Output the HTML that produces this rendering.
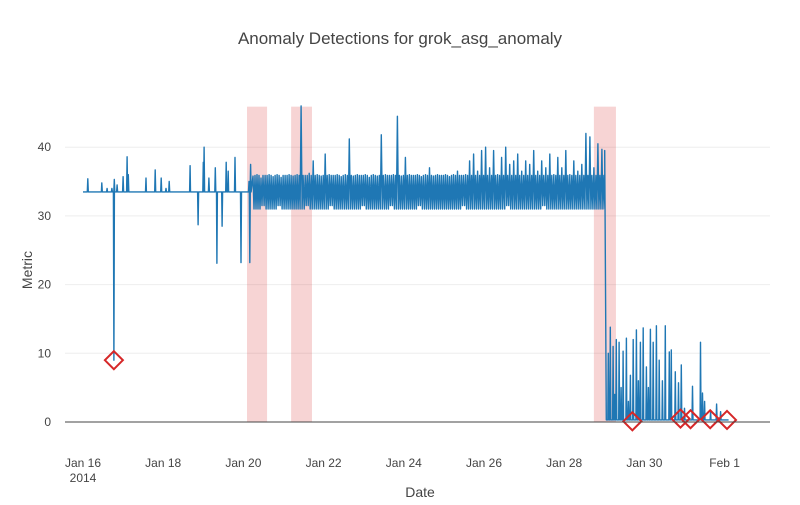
<!DOCTYPE html>
<html><head><meta charset="utf-8"><style>
body{margin:0;background:#fff;font-family:"Liberation Sans",sans-serif}
svg text{font-family:"Liberation Sans",sans-serif;fill:#444}
</style></head><body>
<svg id="chart" width="800" height="500">
<rect width="800" height="500" fill="#fff"/>
<text x="400" y="44" text-anchor="middle" font-size="17">Anomaly Detections for grok_asg_anomaly</text>
<g id="grid"></g><g id="shapes"></g><g id="lines"></g><g id="marks"></g><g id="axes"></g>
<text x="420" y="497" text-anchor="middle" font-size="14">Date</text>
<text transform="translate(32,270) rotate(-90)" text-anchor="middle" font-size="14">Metric</text>
</svg>
<script>
// days since Jan 16 2014
const xTickDays=[0,2,4,6,8,10,12,14,16];
const xTickLabels=["Jan 16","Jan 18","Jan 20","Jan 22","Jan 24","Jan 26","Jan 28","Jan 30","Feb 1"];
const yTicks=[0,10,20,30,40];
const anomalyWindowsStart=[4.09,5.19,12.74];
const anomalyWindowsEnd=[4.59,5.71,13.29];
const baseLevel=33.5;
const preSpikeDays=[0.12,0.47,0.6,0.72,0.77,0.78,0.85,1.0,1.1,1.13,1.57,1.8,1.95,2.07,2.15,2.67,2.87,3.0,3.02,3.14,3.3,3.34,3.47,3.57,3.62,3.79,3.94,4.14,4.16,4.18];
const preSpikeVals=[35.4,34.8,34,34,9,35.3,34.5,35.7,38.6,36,35.5,36.7,35.5,34,35,37.3,28.7,37.8,40,35.5,37,23.1,28.5,37.8,36.5,38.5,23.2,35,23.2,37.5];
const bandStart=4.24, bandStep=0.1, bandTypicalTop=35.9;
const bandHigh=[35.8,36,35.5,35.9,36,35.7,36,35.6,35.9,36,35.8,36,46,35.9,36.2,38,36,35.8,39,36,35.9,36,35.7,36,41.2,35.8,36,35.9,36,35.6,36,35.8,41.8,36,35.9,36,44.5,35.8,38.5,36,35.9,36,35.7,36,37,35.8,36,35.9,36,35.7,36,36.5,35.9,36,38,39,36.5,39.5,40,37,39.5,36,38.5,40,37.5,38,39,36.5,38,37.5,39.5,36.5,38,37,39,36,38.5,37,39.5,36,38,36.5,37.5,42,41.5,37,40.5,39.7];
const bandLow=[31,31,31.5,31,31,31,31.5,31,31,31,31,31,31,31.5,31,31,31,31,31,31.5,31,31,31,31,31,31,31,31.5,31,31,31,31,31,31,31.5,31,31,31,31,31,31,31.5,31,31,31,31,31,31,31,31,31,31,31.5,31,31,31,31,31,31,31,31,31,31,31.5,31,31,31,31,31,31,31,31,31.5,31,31,31,31,31,31,31,31,31,31,31,31,31,31,31];
const dropDay=13.02;
const postSpikeDays=[13.1,13.15,13.22,13.26,13.3,13.37,13.42,13.47,13.55,13.6,13.65,13.72,13.8,13.85,13.9,13.97,14.05,14.1,14.15,14.22,14.3,14.37,14.45,14.52,14.62,14.67,14.77,14.85,14.92,15.0,15.2,15.4,15.45,15.5,15.65,15.8,15.9];
const postSpikeVals=[10,13.8,11,4,12,11.6,5,10.3,12.2,3,6.8,12,13.4,6,11.6,13.7,8,5,13.5,11.6,14,9,6,14,10.2,10.5,7.3,5.7,8.3,2,5.2,11.6,4.2,3,1.5,2.6,1.5];
const postBase=0.3, endDay=16.1;
const anomalyDays=[0.77,13.7,14.9,15.15,15.64,16.06];
const anomalyVals=[9,0.1,0.5,0.4,0.4,0.3];

const NS="http://www.w3.org/2000/svg";
const X0=65,X1=770;
const xs=d=>83+d*40.1;
const ys=v=>422-v*6.87;
function mk(tag,attrs,parent){const e=document.createElementNS(NS,tag);for(const k in attrs)e.setAttribute(k,attrs[k]);document.getElementById(parent).appendChild(e);return e;}

yTicks.forEach(v=>{
  const l=mk('line',{x1:X0,x2:X1,y1:ys(v),y2:ys(v),stroke:v===0?'#444':'#eee','stroke-width':1},v===0?'axes':'grid');
  
  
  const t=mk('text',{x:51,y:ys(v)+4,'text-anchor':'end','font-size':12},'axes');
  t.textContent=v;
  
  
});
xTickDays.forEach((d,i)=>{
  const t=mk('text',{x:xs(d),y:467,'text-anchor':'middle','font-size':12},'axes');
  t.textContent=xTickLabels[i];
  
  
});
const yr=mk('text',{x:xs(0),y:482,'text-anchor':'middle','font-size':12},'axes');
yr.textContent='2014';



const ymax=ys(45.9);
anomalyWindowsStart.forEach((s,i)=>{
  const r=mk('rect',{x:xs(s),y:ymax,width:xs(anomalyWindowsEnd[i])-xs(s),height:ys(0)-ymax,fill:'#d62728','fill-opacity':0.2},'shapes');
  
  
});

const pts=[[0,baseLevel]];
preSpikeDays.forEach((d,i)=>{pts.push([d-0.012,baseLevel],[d,preSpikeVals[i]],[d+0.012,baseLevel]);});
bandHigh.forEach((h,i)=>{
  const t=bandStart+i*bandStep, q=bandStep/4, lo=bandLow[i];
  pts.push([t,h],[t+q,lo],[t+2*q,bandTypicalTop],[t+3*q,lo]);
});
pts.push([dropDay-0.01,39.5],[dropDay+0.03,postBase]);
postSpikeDays.forEach((d,i)=>{pts.push([d-0.012,postBase],[d,postSpikeVals[i]],[d+0.012,postBase]);});
pts.push([endDay,postBase]);
const pl=mk('polyline',{points:pts.map(p=>xs(p[0]).toFixed(1)+','+ys(p[1]).toFixed(1)).join(' '),fill:'none',stroke:'#1f77b4','stroke-width':1.4,'stroke-linejoin':'round'},'lines');



anomalyDays.forEach((d,i)=>{
  const cx=xs(d),cy=ys(anomalyVals[i]),r=9;
  const p=mk('polygon',{points:`${cx},${cy-r} ${cx+r},${cy} ${cx},${cy+r} ${cx-r},${cy}`,fill:'none',stroke:'#d62728','stroke-width':2},'marks');
  
  
});
</script>
</body></html>
